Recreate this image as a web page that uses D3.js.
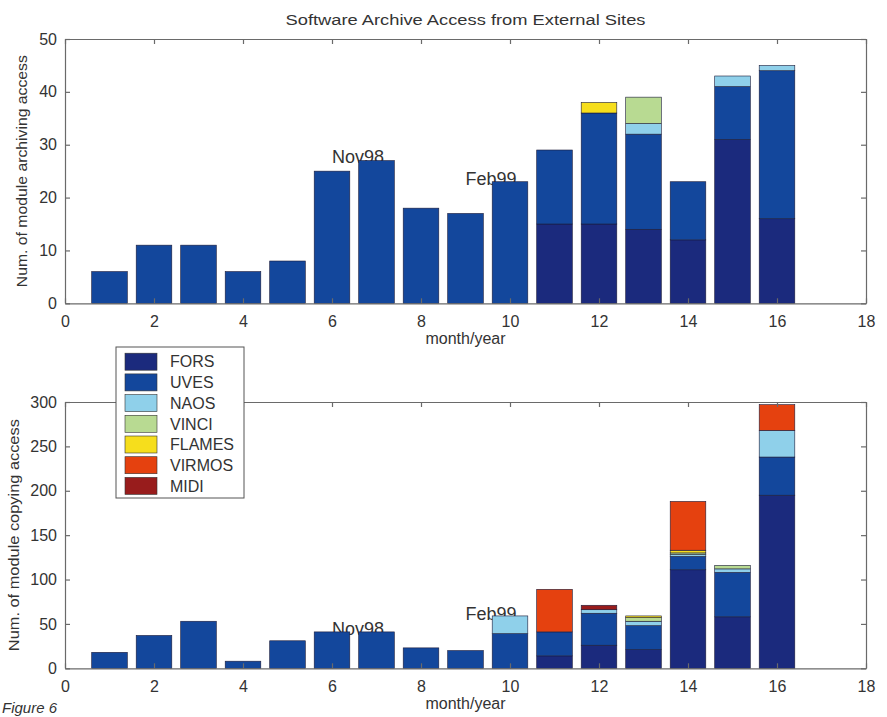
<!DOCTYPE html>
<html>
<head>
<meta charset="utf-8">
<script src="https://cdn.jsdelivr.net/npm/d3@7"></script>
<style>
  body { margin: 0; background: #fff; }
  svg { display: block; }
  text { font-family: "Liberation Sans", Arial, Helvetica, sans-serif; fill: #333; }
</style>
</head>
<body>
<svg id="chart" width="887" height="717"></svg>
<script>
// Month index (1 = first month of the survey)
const months = [1, 2, 3, 4, 5, 6, 7, 8, 9, 10, 11, 12, 13, 14, 15, 16];
const xTicks = [0, 2, 4, 6, 8, 10, 12, 14, 16, 18];

const instruments = ["FORS", "UVES", "NAOS", "VINCI", "FLAMES", "VIRMOS", "MIDI"];
const instrumentColors = ["#1b2a7d", "#13479c", "#8fd0ea", "#b8da92", "#f6de1c", "#e5410f", "#981c1c"];

// Archiving accesses per instrument module
const archiveFORS   = [0, 0, 0, 0, 0, 0, 0, 0, 0, 0, 15, 15, 14, 12, 31, 16];
const archiveUVES   = [6, 11, 11, 6, 8, 25, 27, 18, 17, 23, 14, 21, 18, 11, 10, 28];
const archiveNAOS   = [0, 0, 0, 0, 0, 0, 0, 0, 0, 0, 0, 0, 2, 0, 2, 1];
const archiveVINCI  = [0, 0, 0, 0, 0, 0, 0, 0, 0, 0, 0, 0, 5, 0, 0, 0];
const archiveFLAMES = [0, 0, 0, 0, 0, 0, 0, 0, 0, 0, 0, 2, 0, 0, 0, 0];
const archiveVIRMOS = [0, 0, 0, 0, 0, 0, 0, 0, 0, 0, 0, 0, 0, 0, 0, 0];
const archiveMIDI   = [0, 0, 0, 0, 0, 0, 0, 0, 0, 0, 0, 0, 0, 0, 0, 0];
const archiveTicks  = [0, 10, 20, 30, 40, 50];

// Copying accesses per instrument module
const copyFORS   = [0, 0, 0, 0, 0, 0, 0, 0, 0, 0, 14, 26, 21, 111, 58, 195];
const copyUVES   = [18, 37, 53, 8, 31, 41, 41, 23, 20, 39, 27, 36, 27, 15, 50, 43];
const copyNAOS   = [0, 0, 0, 0, 0, 0, 0, 0, 0, 20, 0, 4, 5, 2, 4, 30];
const copyVINCI  = [0, 0, 0, 0, 0, 0, 0, 0, 0, 0, 0, 0, 4, 2, 4, 0];
const copyFLAMES = [0, 0, 0, 0, 0, 0, 0, 0, 0, 0, 0, 0, 2, 3, 0, 0];
const copyVIRMOS = [0, 0, 0, 0, 0, 0, 0, 0, 0, 0, 48, 0, 0, 55, 0, 29];
const copyMIDI   = [0, 0, 0, 0, 0, 0, 0, 0, 0, 0, 0, 5, 0, 0, 0, 0];
const copyTicks  = [0, 50, 100, 150, 200, 250, 300];

// Text markers placed in data coordinates
const archiveNotes = [{ label: "Nov98", x: 6, y: 27.7 }, { label: "Feb99", x: 9, y: 23.6 }];
const copyNotes    = [{ label: "Nov98", x: 6, y: 45 },   { label: "Feb99", x: 9, y: 62 }];

const svg = d3.select("#chart");
const FONT = "'Liberation Sans', Arial, Helvetica, sans-serif";

const x = d3.scaleLinear().domain([0, 18]).range([65, 866]);

function drawPanel(cfg) {
  const g = svg.append("g");
  const y = cfg.y;
  const [yb, yt] = y.range();

  // white plot area
  g.append("rect").attr("x", x(0)).attr("y", yt)
    .attr("width", x(18) - x(0)).attr("height", yb - yt).attr("fill", "#fff");

  // markers sit behind the bars
  g.selectAll("text.note").data(cfg.notes).join("text")
    .attr("class", "note")
    .attr("x", d => x(d.x)).attr("y", d => y(d.y))
    .attr("dy", "0.35em")
    .attr("font-size", 18)
    .attr("fill", "#444")
    .text(d => d.label);

  const table = months.map((m, i) => {
    const row = { month: m };
    instruments.forEach((k, j) => { row[k] = cfg.series[j][i]; });
    return row;
  });
  const stacked = d3.stack().keys(instruments)(table);

  const bw = x(0.8) - x(0);
  g.selectAll("g.layer").data(stacked).join("g")
    .attr("class", "layer")
    .attr("fill", (d, i) => instrumentColors[i])
    .selectAll("rect")
    .data(d => d.filter(p => p[1] > p[0]))
    .join("rect")
    .attr("x", p => x(p.data.month) - bw / 2)
    .attr("width", bw)
    .attr("y", p => y(p[1]))
    .attr("height", p => y(p[0]) - y(p[1]))
    .attr("stroke", "#1c1c3a")
    .attr("stroke-width", 0.6);

  const style = sel => {
    sel.attr("font-size", 16).attr("font-family", FONT);
    sel.selectAll("path.domain").attr("stroke", "#6a6a6a").attr("stroke-width", 1.2);
    sel.selectAll(".tick line").attr("stroke", "#6a6a6a").attr("stroke-width", 1.2);
    sel.selectAll(".tick text").attr("fill", "#333");
  };

  g.append("g").attr("transform", `translate(0,${yb})`)
    .call(d3.axisBottom(x).tickValues(xTicks).tickSizeInner(-5).tickSizeOuter(0).tickPadding(12))
    .call(style);
  g.append("g").attr("transform", `translate(0,${yt})`)
    .call(d3.axisTop(x).tickValues(xTicks).tickSizeInner(-5).tickSizeOuter(0).tickFormat(""))
    .call(style);
  g.append("g").attr("transform", `translate(${x(0)},0)`)
    .call(d3.axisLeft(y).tickValues(cfg.ticks).tickSizeInner(-5).tickSizeOuter(0).tickPadding(8))
    .call(style);
  g.append("g").attr("transform", `translate(${x(18)},0)`)
    .call(d3.axisRight(y).tickValues(cfg.ticks).tickSizeInner(-5).tickSizeOuter(0).tickFormat(""))
    .call(style);

  // axis titles
  g.append("text")
    .attr("x", (x(0) + x(18)) / 2).attr("y", yb + 35)
    .attr("dy", "0.35em")
    .attr("text-anchor", "middle").attr("font-size", 16)
    .text("month/year");

  g.append("text")
    .attr("transform", `translate(${cfg.ylabelX},${(yb + yt) / 2}) rotate(-90)`)
    .attr("text-anchor", "middle").attr("dy", "0.35em")
    .attr("font-size", 14)
    .attr("textLength", cfg.ylabelLength).attr("lengthAdjust", "spacingAndGlyphs")
    .text(cfg.ylabel);

  return g;
}

// upper panel: archiving
drawPanel({
  y: d3.scaleLinear().domain([0, 50]).range([303.3, 39]),
  series: [archiveFORS, archiveUVES, archiveNAOS, archiveVINCI, archiveFLAMES, archiveVIRMOS, archiveMIDI],
  ticks: archiveTicks,
  notes: archiveNotes,
  ylabel: "Num. of module archiving access",
  ylabelX: 22,
  ylabelLength: 232
});

// lower panel: copying
drawPanel({
  y: d3.scaleLinear().domain([0, 300]).range([668.3, 402]),
  series: [copyFORS, copyUVES, copyNAOS, copyVINCI, copyFLAMES, copyVIRMOS, copyMIDI],
  ticks: copyTicks,
  notes: copyNotes,
  ylabel: "Num. of module copying access",
  ylabelX: 14,
  ylabelLength: 232
});

// title
svg.append("text")
  .attr("x", (x(0) + x(18)) / 2).attr("y", 20)
  .attr("dy", "0.35em")
  .attr("text-anchor", "middle").attr("font-size", 14)
  .attr("textLength", 360).attr("lengthAdjust", "spacingAndGlyphs")
  .text("Software Archive Access from External Sites");

// legend
const legend = svg.append("g").attr("transform", "translate(116,347)");
legend.append("rect").attr("width", 128).attr("height", 151)
  .attr("fill", "#fff").attr("stroke", "#555").attr("stroke-width", 1);
const rows = legend.selectAll("g.row").data(instruments).join("g")
  .attr("class", "row")
  .attr("transform", (d, i) => `translate(0,${14.7 + i * 20.7})`);
rows.append("rect").attr("x", 9).attr("y", -8.5).attr("width", 32).attr("height", 17)
  .attr("fill", (d, i) => instrumentColors[i]).attr("stroke", "#333").attr("stroke-width", 0.6);
rows.append("text").attr("x", 54).attr("dy", "0.36em").attr("font-size", 16).text(d => d);

// caption
svg.append("text")
  .attr("x", 2).attr("y", 713)
  .attr("font-size", 15).attr("font-style", "italic")
  .text("Figure 6");
</script>
</body>
</html>
